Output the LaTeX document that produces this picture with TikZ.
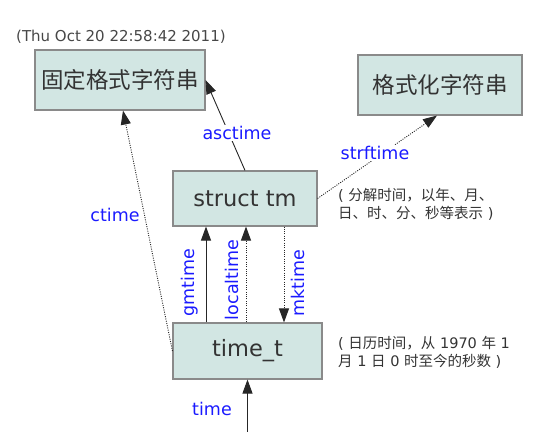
\documentclass[tikz,border=0pt]{standalone}
\usepackage{fontspec}
\setmainfont{DejaVu Sans}
\newfontfamily\cjk{Noto Sans CJK SC}
\usetikzlibrary{arrows.meta}
\definecolor{boxfill}{HTML}{D2E6E3}
\definecolor{boxline}{HTML}{8A8A8A}
\definecolor{txtgray}{HTML}{333333}
\definecolor{lblblue}{HTML}{1A1AFF}
\begin{document}
\begin{tikzpicture}[x=1pt,y=-1pt,
  box/.style={draw=boxline,line width=1.1pt,fill=boxfill,text=txtgray,inner sep=0pt,font=\fontsize{22.5}{27}\selectfont},
  lbl/.style={text=lblblue,font=\fontsize{17.5}{21}\selectfont,inner sep=1pt},
  conn/.style={line width=0.9pt,draw=black!85,-{Triangle[width=10pt,length=14pt]}},
  dotline/.style={conn,dash pattern=on 1pt off 1.3pt},
  anno/.style={text=txtgray,font=\fontsize{14.5}{18}\selectfont,align=left,inner sep=0pt}]

\useasboundingbox (0,0) rectangle (536,438);

% boxes
\node[box,minimum width=170,minimum height=60] (fixed) at (120,80) {\cjk 固定格式字符串};
\node[box,minimum width=164,minimum height=60] (fmt) at (440,85) {\cjk 格式化字符串};
\node[box,minimum width=144,minimum height=55] (tm) at (245,198.5) {struct tm};
\node[box,minimum width=149,minimum height=56] (tt) at (247.5,351) {time\_t};
\coordinate (src) at (247.5,432);

% texts
\node[anno,anchor=west,text=txtgray!90] (date) at (16,37) {\fontsize{15}{18}\selectfont(Thu Oct 20 22:58:42 2011)};
\node[anno,anchor=west] (ann1) at (338,204) {( {\cjk 分解时间，以年、月、}\\{\cjk 日、时、分、秒等表示} )};
\node[anno,anchor=west] (ann2) at (338,352) {( {\cjk 日历时间，从} 1970 {\cjk 年} 1\\{\cjk 月} 1 {\cjk 日} 0 {\cjk 时至今的秒数} )};

% connectors
\draw[conn] (tm.north) -- (fixed.east);
\draw[dotline] (tm.east) -- ([xshift=-3]fmt.south);
\draw[dotline] (tt.west) -- ([xshift=3]fixed.south);
\draw[conn] ([xshift=-41.5]tt.north) -- ([xshift=-39]tm.south);
\draw[dotline] ([xshift=-1.5]tt.north) -- ([xshift=1]tm.south);
\draw[dotline] ([xshift=39]tm.south) -- ([xshift=36.5]tt.north);
\draw[conn] (src) -- (tt.south);

% labels
\node[lbl,fill=white] (lasc) at (237,133) {asctime};
\node[lbl,fill=white] (lstrf) at (375,153) {strftime};
\node[lbl] (lctime) at (115,215) {ctime};
\node[lbl,rotate=90] (lgm) at (190,283) {gmtime};
\node[lbl,rotate=90] (lloc) at (232,280) {localtime};
\node[lbl,rotate=90] (lmk) at (298,283) {mktime};
\node[lbl] (ltime) at (212,409) {time};
\end{tikzpicture}
\end{document}
